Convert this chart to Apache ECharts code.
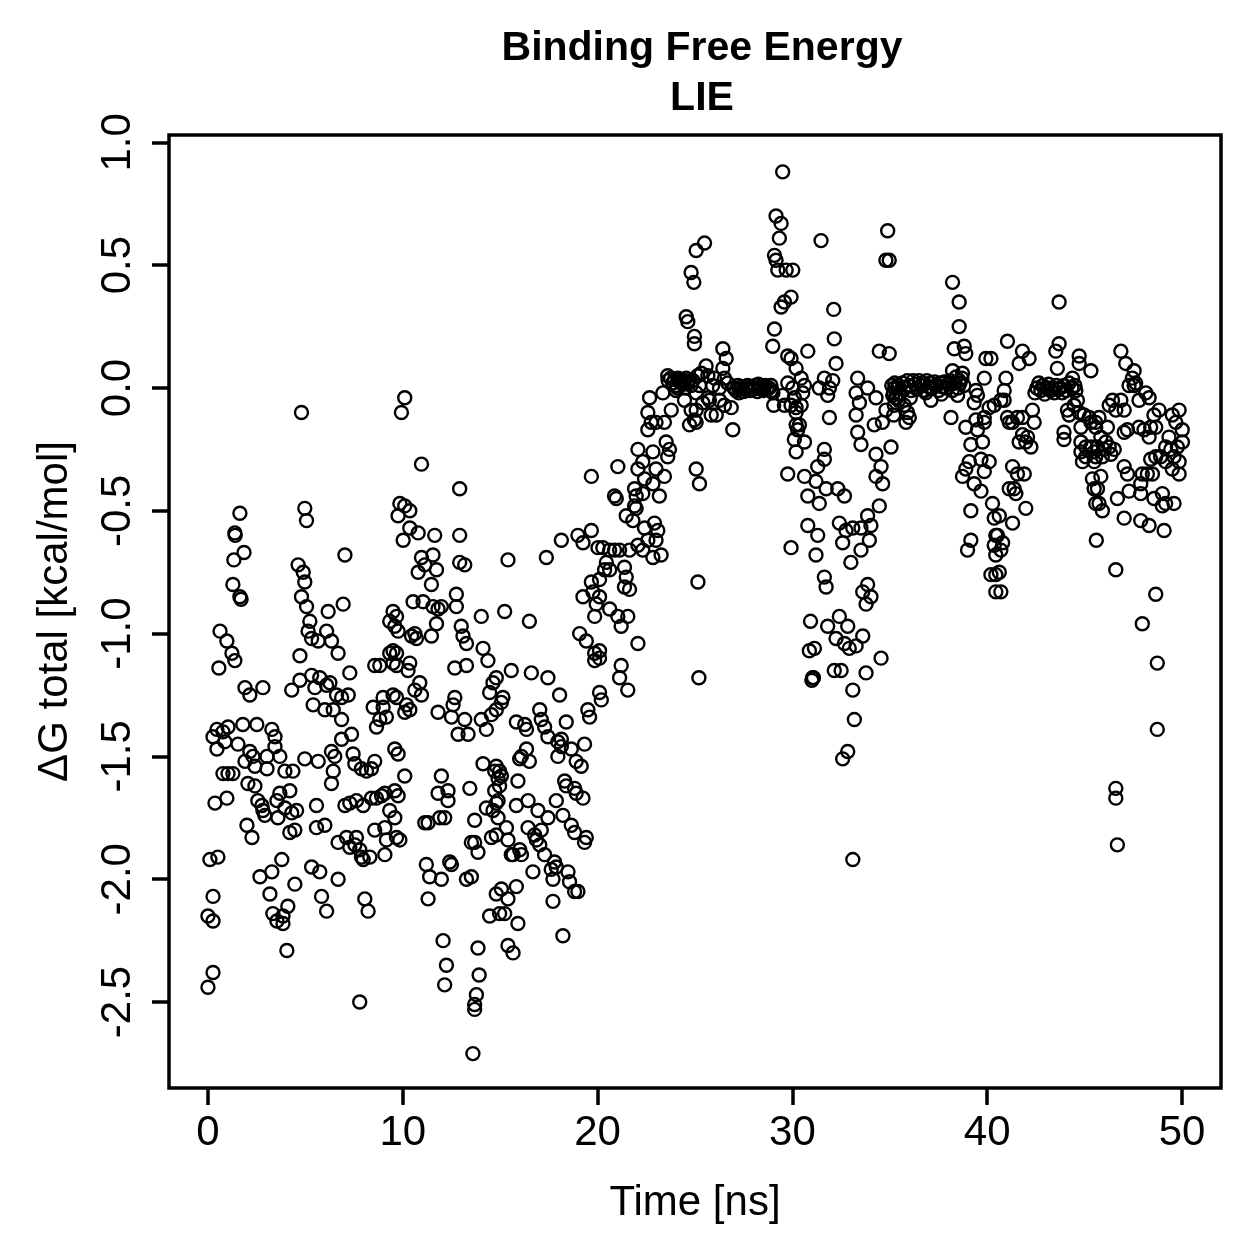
<!DOCTYPE html>
<html>
<head>
<meta charset="utf-8">
<title>Binding Free Energy - LIE</title>
<script src="https://cdn.jsdelivr.net/npm/echarts@6/dist/echarts.min.js"></script>
<style>
  html, body { margin: 0; padding: 0; background: #fff; }
  #chart { width: 1259px; height: 1259px; }
</style>
</head>
<body>
<div id="chart"></div>
<script>
// [time (ns), dG total (kcal/mol)], grouped by time window
const pts0to5 = [
  [1.64,-0.51],[1.38,-0.59],[1.4,-0.6],[1.85,-0.67],[1.33,-0.70],[1.28,-0.80],[1.64,-0.85],[1.7,-0.86],
  [0.62,-0.99],[0.97,-1.03],[1.23,-1.08],[1.38,-1.11],[0.56,-1.14],[1.90,-1.22],[2.15,-1.25],[2.82,-1.22],
  [4.3,-1.23],[0.46,-1.39],[1.03,-1.38],[1.79,-1.37],[2.51,-1.37],[3.28,-1.39],[0.26,-1.42],[0.77,-1.40],
  [0.87,-1.44],[0.46,-1.47],[1.54,-1.45],[3.44,-1.42],[3.44,-1.46],[2.15,-1.48],[2.31,-1.50],[1.90,-1.52],
  [3.03,-1.50],[3.69,-1.50],[2.41,-1.54],[3.03,-1.55],[0.77,-1.57],[1.03,-1.57],[1.28,-1.57],[3.95,-1.56],
  [4.36,-1.56],[2.05,-1.61],[2.41,-1.62],[0.36,-1.69],[0.97,-1.67],[2.56,-1.68],[2.77,-1.70],[2.82,-1.72],
  [2.92,-1.74],[3.54,-1.68],[3.69,-1.65],[4.2,-1.64],[3.95,-1.71],[4.3,-1.73],[3.59,-1.75],[2.0,-1.78],
  [2.26,-1.83],[4.2,-1.81],[0.10,-1.92],[0.51,-1.91],[3.79,-1.92],[2.67,-1.99],[3.28,-1.97],[4.46,-2.02],
  [0.26,-2.07],[3.18,-2.06],[0.0,-2.15],[0.26,-2.17],[3.33,-2.14],[3.54,-2.17],[3.85,-2.15],[4.1,-2.11],
  [3.85,-2.18],[4.05,-2.29],[0.26,-2.38],[0.0,-2.44],[4.55,-1.72],[4.46,-1.80]
];
const pts5to10 = [
  [4.8,-0.10],[4.97,-0.49],[5.06,-0.54],[7.03,-0.68],[4.63,-0.72],[4.89,-0.75],[4.97,-0.79],[4.8,-0.85],
  [5.06,-0.89],[6.94,-0.88],[6.17,-0.91],[5.23,-0.95],[5.14,-0.99],[5.32,-1.02],[5.66,-1.03],[6.09,-0.99],
  [6.34,-1.03],[6.68,-1.08],[4.72,-1.09],[9.5,-0.91],[9.59,-0.97],[9.33,-0.95],[9.33,-1.08],[9.5,-1.07],
  [9.5,-1.12],[8.56,-1.13],[8.82,-1.13],[4.72,-1.19],[5.32,-1.17],[5.49,-1.22],[5.74,-1.18],[6.09,-1.21],
  [6.26,-1.20],[7.28,-1.16],[6.6,-1.25],[6.86,-1.26],[7.2,-1.25],[5.4,-1.29],[6.0,-1.31],[6.43,-1.31],
  [6.86,-1.35],[8.48,-1.30],[8.99,-1.30],[8.82,-1.35],[9.16,-1.34],[8.99,-1.26],[9.5,-1.25],[8.65,-1.38],
  [6.86,-1.43],[7.37,-1.41],[9.59,-1.47],[4.97,-1.51],[5.66,-1.52],[6.34,-1.48],[6.51,-1.50],[7.45,-1.49],
  [7.54,-1.53],[7.88,-1.55],[8.14,-1.56],[8.39,-1.55],[8.56,-1.52],[6.43,-1.56],[6.34,-1.61],[5.57,-1.70],
  [5.57,-1.79],[6.0,-1.78],[7.03,-1.70],[7.28,-1.69],[7.62,-1.68],[7.97,-1.70],[8.39,-1.67],[8.65,-1.67],
  [8.91,-1.66],[9.08,-1.65],[9.33,-1.72],[9.59,-1.64],[6.68,-1.85],[7.11,-1.83],[7.28,-1.87],[7.54,-1.86],
  [7.62,-1.83],[7.79,-1.88],[7.88,-1.91],[7.97,-1.92],[8.31,-1.91],[8.56,-1.80],[9.08,-1.79],[9.16,-1.84],
  [9.08,-1.90],[9.68,-1.83],[5.32,-1.95],[5.74,-1.97],[6.68,-2.0],[5.83,-2.07],[6.09,-2.13],[8.05,-2.08],
  [8.22,-2.13],[7.79,-2.50]
];
const pts10to15 = [
  [10.1,-0.04],[9.93,-0.10],[10.96,-0.31],[12.92,-0.41],[9.85,-0.47],[10.1,-0.48],[10.36,-0.50],[9.76,-0.52],
  [10.36,-0.57],[10.79,-0.59],[10.02,-0.62],[11.64,-0.60],[12.92,-0.60],[10.96,-0.69],[11.55,-0.68],[11.13,-0.72],
  [10.79,-0.75],[11.73,-0.74],[12.92,-0.71],[13.18,-0.72],[11.47,-0.80],[12.75,-0.84],[12.75,-0.89],[10.53,-0.87],
  [11.04,-0.87],[11.55,-0.89],[11.81,-0.90],[11.98,-0.89],[14.03,-0.93],[9.68,-0.93],[9.76,-0.99],[10.45,-1.01],
  [10.62,-1.00],[10.7,-1.02],[11.47,-1.01],[11.73,-0.96],[13.0,-0.97],[13.09,-1.01],[13.27,-1.04],[14.12,-1.06],
  [14.37,-1.11],[9.68,-1.08],[9.68,-1.13],[10.36,-1.12],[10.27,-1.15],[12.67,-1.14],[13.27,-1.13],[10.87,-1.20],
  [10.62,-1.23],[10.96,-1.25],[9.68,-1.26],[14.63,-1.20],[14.46,-1.24],[15.06,-1.28],[10.19,-1.29],[10.36,-1.31],
  [10.1,-1.32],[11.81,-1.32],[12.67,-1.26],[12.58,-1.29],[12.5,-1.34],[13.18,-1.35],[12.84,-1.41],[13.35,-1.41],
  [14.03,-1.35],[14.29,-1.39],[14.55,-1.33],[9.76,-1.49],[10.1,-1.58],[9.76,-1.66],[11.98,-1.58],[11.81,-1.65],
  [12.32,-1.64],[12.32,-1.68],[13.44,-1.63],[14.12,-1.53],[14.72,-1.56],[14.89,-1.59],[14.72,-1.64],[14.89,-1.68],
  [14.29,-1.71],[14.63,-1.72],[14.89,-1.75],[9.59,-1.75],[9.85,-1.84],[11.13,-1.77],[11.3,-1.77],[11.9,-1.75],
  [12.15,-1.75],[13.69,-1.76],[13.52,-1.85],[13.69,-1.85],[13.86,-1.89],[14.55,-1.83],[11.21,-1.94],[11.38,-1.99],
  [11.98,-2.0],[12.41,-1.93],[12.5,-1.94],[13.27,-2.0],[13.52,-1.99],[11.3,-2.08],[14.8,-2.06],[14.46,-2.15],
  [14.97,-2.14],[12.07,-2.25],[13.86,-2.28],[12.24,-2.35],[12.15,-2.43],[13.92,-2.39],[13.78,-2.47],[13.69,-2.51],
  [13.69,-2.53],[13.6,-2.71]
];
const pts15to20 = [
  [19.68,-0.36],[18.14,-0.62],[18.99,-0.60],[19.25,-0.63],[19.68,-0.58],[20.02,-0.65],[15.4,-0.70],[17.37,-0.69],
  [15.23,-0.91],[16.5,-0.95],[19.68,-0.79],[19.76,-0.83],[19.25,-0.85],[19.93,-0.88],[19.85,-0.93],[19.08,-1.0],
  [19.42,-1.03],[19.85,-1.08],[19.85,-1.11],[15.57,-1.15],[16.6,-1.16],[17.45,-1.18],[18.05,-1.25],[17.03,-1.31],
  [15.14,-1.26],[14.8,-1.31],[14.8,-1.18],[15.83,-1.36],[16.26,-1.37],[16.35,-1.39],[17.11,-1.35],[17.28,-1.38],
  [17.45,-1.42],[17.96,-1.44],[18.14,-1.43],[18.39,-1.36],[18.65,-1.47],[18.9,-1.52],[19.16,-1.54],[19.5,-1.31],
  [19.59,-1.34],[19.33,-1.45],[16.35,-1.47],[16.09,-1.50],[16.0,-1.51],[16.5,-1.52],[14.8,-1.54],[14.97,-1.56],
  [15.06,-1.58],[14.97,-1.62],[15.91,-1.60],[17.96,-1.50],[18.14,-1.46],[18.31,-1.60],[18.39,-1.62],[18.82,-1.63],
  [18.9,-1.65],[19.25,-1.67],[14.8,-1.69],[15.83,-1.70],[16.43,-1.68],[16.94,-1.72],[17.45,-1.75],[17.88,-1.68],
  [18.22,-1.74],[18.65,-1.78],[18.82,-1.81],[19.42,-1.83],[19.33,-1.85],[15.32,-1.79],[14.8,-1.82],[15.4,-1.84],
  [16.43,-1.79],[16.77,-1.82],[16.86,-1.84],[17.11,-1.80],[17.03,-1.86],[17.28,-1.90],[16.0,-1.88],[16.09,-1.90],
  [15.66,-1.90],[15.57,-1.90],[16.68,-1.97],[17.79,-1.93],[17.88,-1.95],[17.62,-1.96],[17.71,-2.0],[18.48,-1.97],
  [18.56,-2.01],[18.82,-2.05],[18.99,-2.05],[15.06,-2.04],[15.83,-2.03],[15.4,-2.08],[15.23,-2.14],[15.91,-2.18],
  [17.71,-2.09],[18.22,-2.23],[15.4,-2.27],[15.66,-2.30]
];
const pts20to25 = [
  [25.06,0.56],[24.8,0.47],[24.94,0.43],[24.55,0.29],[24.63,0.27],[24.97,0.21],[24.97,0.18],
  [23.62,0.03],[23.75,0.04],[23.85,0.02],[23.95,0.035],[24.05,0.01],[24.12,0.04],[24.2,0.025],[24.3,0.035],
  [24.38,0.015],[24.45,0.03],[24.55,0.04],[24.62,0.02],[24.7,0.03],[24.8,0.01],[24.9,0.03],[24.1,0.0],[24.5,0.0],
  [25.14,0.05],[23.6,0.05],[23.35,-0.02],[24.03,-0.01],[24.46,-0.05],[22.67,-0.04],[23.78,-0.09],[22.58,-0.10],
  [24.8,-0.09],[24.72,-0.15],[24.97,-0.13],[22.58,-0.17],[23.0,-0.14],[23.43,-0.14],[22.75,-0.14],[22.07,-0.25],
  [22.84,-0.26],[23.52,-0.22],[23.69,-0.25],[23.6,-0.28],[21.04,-0.32],[22.07,-0.33],[22.32,-0.30],[23.0,-0.33],
  [23.43,-0.36],[22.41,-0.37],[22.84,-0.39],[21.9,-0.41],[22.32,-0.43],[23.17,-0.44],[21.98,-0.44],[21.9,-0.48],
  [25.06,-0.33],[25.23,-0.39],[20.87,-0.44],[20.96,-0.45],[21.47,-0.52],[21.81,-0.54],[21.98,-0.49],[22.41,-0.57],
  [22.92,-0.55],[23.09,-0.58],[22.58,-0.62],[23.0,-0.62],[23.26,-0.68],[22.84,-0.69],[21.64,-0.66],[22.07,-0.64],
  [22.32,-0.66],[20.27,-0.65],[20.62,-0.66],[20.87,-0.66],[21.13,-0.66],[20.45,-0.71],[20.62,-0.74],[20.36,-0.74],
  [21.38,-0.73],[21.47,-0.77],[21.38,-0.81],[21.64,-0.82],[20.1,-0.78],[20.1,-0.85],[20.62,-0.90],[21.04,-0.93],
  [21.55,-0.93],[21.21,-0.97],[22.07,-1.04],[20.1,-1.07],[20.1,-1.10],[21.21,-1.13],[21.13,-1.18],[21.55,-1.23],
  [20.1,-1.24],[20.19,-1.27],[25.15,-0.79],[25.2,-1.18]
];
const pts25to30 = [
  [29.5,0.88],[29.16,0.70],[29.42,0.67],[29.33,0.61],[29.08,0.54],[29.16,0.52],[29.25,0.48],[29.68,0.48],
  [30.02,0.48],[29.93,0.37],[29.59,0.35],[29.42,0.33],[25.49,0.59],[29.08,0.24],[28.99,0.17],[26.43,0.16],
  [26.6,0.12],[29.76,0.13],[29.93,0.12],[30.19,0.08],
  [25.57,0.09],[25.32,0.06],[25.66,0.05],[26.0,0.04],[25.91,0.01],[26.43,0.08],[26.51,0.04],[26.68,0.02],
  [26.26,0.0],[25.66,-0.04],[25.74,-0.05],[25.23,0.01],[25.4,-0.06],[25.06,-0.02],[26.26,-0.05],[26.51,-0.07],
  [26.86,-0.08],[25.83,-0.11],[26.09,-0.11],[25.06,-0.09],[25.06,-0.14],[26.94,-0.17],
  [27.0,0.0],[27.1,-0.01],[27.2,0.01],[27.3,-0.005],[27.4,0.005],[27.5,-0.015],[27.6,0.0],[27.7,0.01],
  [27.8,-0.01],[27.9,0.005],[28.0,-0.005],[28.1,0.01],[28.2,-0.015],[28.3,0.0],[28.4,0.005],[28.5,-0.01],
  [28.6,0.01],[28.7,-0.005],[28.8,0.0],[28.9,0.01],[29.0,-0.02],[28.95,-0.01],[27.25,-0.02],[28.25,0.015],
  [29.04,-0.07],[29.5,-0.03],[29.59,-0.07],[29.93,-0.07],[30.19,-0.08],[30.1,-0.04],[29.76,0.02],[30.02,0.0],
  [30.19,-0.15],[30.1,-0.21],[30.19,-0.26],[29.76,-0.35],[29.93,-0.65]
];
const pts30to35 = [
  [31.47,0.60],[34.89,0.64],[34.8,0.52],[34.97,0.52],[32.12,0.32],[32.15,0.20],[32.24,0.10],[30.79,0.15],
  [34.46,0.15],[34.97,0.14],[30.45,0.04],[30.62,0.01],[30.53,-0.02],[31.38,0.0],[31.64,0.04],[32.07,0.03],
  [31.9,0.0],[31.81,-0.03],[33.35,0.04],[33.27,-0.02],[33.86,0.0],[34.29,-0.04],[33.44,-0.06],
  [35.1,0.01],[35.2,-0.02],[35.25,0.02],[35.3,-0.04],[35.4,0.0],[35.45,-0.05],
  [30.45,-0.07],[30.19,-0.10],[30.36,-0.15],[30.62,-0.22],[30.27,-0.17],[31.9,-0.12],[33.27,-0.11],[33.35,-0.18],
  [33.52,-0.23],[34.2,-0.15],[34.62,-0.14],[34.8,-0.09],[35.06,-0.24],[35.2,-0.11],[31.64,-0.25],[31.64,-0.29],
  [31.3,-0.32],[31.21,-0.38],[30.62,-0.36],[31.73,-0.41],[32.33,-0.41],[32.67,-0.44],[34.29,-0.27],[34.55,-0.32],
  [34.29,-0.36],[34.63,-0.39],[34.46,-0.48],[33.86,-0.52],[33.1,-0.57],[33.52,-0.57],[34.03,-0.56],[33.95,-0.62],
  [33.52,-0.66],[33.0,-0.71],[30.79,-0.44],[31.38,-0.47],[30.79,-0.56],[31.3,-0.60],[31.21,-0.68],[32.41,-0.55],
  [32.75,-0.58],[32.58,-0.63],[31.64,-0.77],[31.73,-0.81],[33.86,-0.80],[33.61,-0.83],[34.03,-0.85],[33.78,-0.88],
  [30.93,-0.95],[31.81,-0.97],[32.41,-0.93],[32.84,-0.97],[32.24,-1.02],[32.67,-1.04],[32.92,-1.06],[33.27,-1.05],
  [33.61,-1.01],[30.87,-1.07],[31.13,-1.06],[31.04,-1.18],[31.0,-1.19],[31.08,-1.18],[32.15,-1.15],[32.5,-1.15],
  [33.78,-1.16],[34.55,-1.10],[33.1,-1.23],[33.18,-1.35],[32.84,-1.48],[32.58,-1.51],[33.1,-1.92]
];
const pts35to40 = [
  [38.22,0.43],[38.56,0.35],[38.56,0.25],[38.31,0.16],[38.82,0.17],[38.9,0.14],[39.93,0.12],[40.19,0.12],
  [35.15,-0.03],[35.25,0.0],[35.35,-0.04],[35.45,0.01],[35.55,-0.02],[35.65,0.02],[35.8,0.0],[35.9,0.03],
  [36.0,0.01],[36.1,-0.01],[36.2,0.03],[36.3,0.015],[36.4,-0.005],[36.5,0.03],[36.6,0.01],[36.7,0.02],
  [36.8,-0.01],[36.9,0.03],[37.0,0.005],[37.1,0.02],[37.2,0.0],[37.3,0.025],[37.4,0.01],[37.5,-0.01],
  [37.6,0.02],[37.7,0.005],[37.8,0.025],[37.9,0.0],[38.0,0.015],[38.1,0.03],[38.2,-0.01],[38.3,0.02],
  [38.4,0.045],[38.5,0.0],[38.6,0.02],[38.7,0.04],[38.8,0.01],[36.05,-0.04],[36.85,-0.02],[37.65,-0.025],
  [38.22,0.07],[38.73,0.06],[38.56,0.03],[39.85,0.04],[39.42,-0.01],[39.5,-0.03],[39.33,-0.06],[38.48,-0.03],
  [37.11,-0.05],[35.23,-0.07],[35.74,-0.07],[35.91,-0.10],[35.83,-0.14],[36.0,-0.12],[38.14,-0.12],[40.1,-0.08],
  [39.85,-0.12],[39.42,-0.13],[39.85,-0.14],[38.9,-0.16],[39.5,-0.17],[39.76,-0.22],[39.16,-0.23],[39.08,-0.30],
  [39.68,-0.29],[40.1,-0.30],[38.9,-0.33],[38.73,-0.36],[39.85,-0.34],[39.33,-0.39],[39.68,-0.42],[40.27,-0.47],
  [40.36,-0.53],[39.16,-0.50],[39.16,-0.62],[38.99,-0.66],[40.44,-0.60],[40.36,-0.64],[40.44,-0.68],[40.19,-0.76],
  [40.44,-0.76],[40.44,-0.83]
];
const pts40to45 = [
  [43.69,0.35],[41.04,0.19],[41.81,0.15],[42.15,0.12],[41.64,0.10],[43.69,0.18],[43.52,0.15],[43.6,0.08],
  [44.72,0.13],[44.72,0.10],[45.32,0.07],[40.96,0.04],[40.87,-0.01],[40.87,-0.05],[40.7,-0.05],[40.36,-0.07],
  [42.45,-0.02],[42.55,0.0],[42.65,0.02],[42.75,-0.01],[42.85,0.01],[42.95,-0.025],[43.05,0.0],[43.15,0.015],
  [43.25,-0.01],[43.35,0.0],[43.45,-0.02],[43.55,0.01],[43.65,-0.005],[43.75,0.0],[43.85,-0.02],[43.95,0.01],
  [44.05,-0.01],[44.2,0.02],[44.35,0.0],[44.5,0.01],
  [44.38,0.04],[44.55,-0.01],[44.63,-0.05],[44.46,-0.07],[44.72,-0.10],[44.12,-0.09],[44.2,-0.11],[44.97,-0.11],
  [45.23,-0.12],[45.32,-0.14],[45.57,-0.14],[44.81,-0.16],[41.04,-0.12],[41.3,-0.14],[41.55,-0.12],[41.81,-0.12],
  [42.32,-0.09],[42.41,-0.14],[41.13,-0.14],[41.81,-0.19],[42.07,-0.20],[41.98,-0.22],[41.64,-0.22],[42.24,-0.24],
  [43.94,-0.18],[43.94,-0.21],[44.81,-0.22],[45.06,-0.24],[45.32,-0.24],[44.81,-0.26],[45.06,-0.28],[45.49,-0.26],
  [44.89,-0.30],[45.49,-0.30],[41.3,-0.32],[41.55,-0.35],[41.9,-0.35],[41.13,-0.41],[41.38,-0.41],[41.47,-0.43],
  [45.4,-0.37],[45.49,-0.41],[45.57,-0.47],[41.98,-0.49],[41.3,-0.55],[40.62,-0.52],[40.53,-0.60],[40.79,-0.63],
  [40.7,-0.66],[40.62,-0.75],[40.7,-0.83]
];
const pts45to50 = [
  [46.86,0.15],[47.11,0.10],[47.54,0.07],[47.45,0.04],[47.62,0.02],[47.54,0.01],[47.28,0.01],[48.14,-0.02],
  [48.31,-0.04],[47.79,-0.05],[48.82,-0.09],[49.5,-0.11],[49.85,-0.09],[49.68,-0.14],[50.01,-0.17],[48.56,-0.11],
  [48.39,-0.16],[46.43,-0.05],[46.86,-0.05],[46.26,-0.07],[46.6,-0.09],[47.03,-0.09],[45.74,-0.12],[45.57,-0.16],
  [46.17,-0.16],[45.83,-0.20],[46.09,-0.22],[46.26,-0.24],[46.0,-0.25],[45.66,-0.24],[46.52,-0.25],[46.35,-0.27],
  [45.57,-0.28],[45.91,-0.28],[47.03,-0.18],[47.2,-0.17],[47.79,-0.16],[48.05,-0.17],[48.31,-0.20],[48.65,-0.16],
  [49.33,-0.20],[49.16,-0.24],[49.42,-0.25],[49.76,-0.24],[50.02,-0.22],[49.59,-0.28],[48.9,-0.28],[49.16,-0.30],
  [49.85,-0.30],[49.85,-0.35],[49.5,-0.33],[48.65,-0.28],[48.39,-0.29],[47.03,-0.32],[47.2,-0.35],[47.96,-0.35],
  [48.22,-0.35],[48.48,-0.35],[47.88,-0.39],[45.83,-0.36],[45.66,-0.41],[45.74,-0.47],[45.91,-0.50],[46.68,-0.45],
  [47.28,-0.42],[47.88,-0.43],[48.56,-0.45],[48.99,-0.43],[49.16,-0.47],[49.59,-0.47],[48.99,-0.48],[47.03,-0.53],
  [47.88,-0.54],[48.31,-0.56],[49.08,-0.58],[45.6,-0.62],[46.6,-0.74],[48.65,-0.84],[47.96,-0.96],[48.73,-1.12],
  [48.73,-1.39],[46.6,-1.63],[46.6,-1.67],[46.68,-1.86]
];

const xTicks = [0, 10, 20, 30, 40, 50];
const yTicks = [-2.5, -2.0, -1.5, -1.0, -0.5, 0.0, 0.5, 1.0];

const allPoints = [].concat(pts0to5, pts5to10, pts10to15, pts15to20, pts20to25,
  pts25to30, pts30to35, pts35to40, pts40to45, pts45to50);

const font = "'Liberation Sans', Arial, Helvetica, sans-serif";

let myChart = echarts.init(document.getElementById("chart"), null, { renderer: "canvas" });
myChart.setOption({
  animation: false,
  backgroundColor: "#fff",
  textStyle: { fontFamily: font, color: "#000" },
  title: {
    text: "Binding Free Energy\nLIE",
    left: 697,
    top: 19,
    textAlign: "center",
    textStyle: { fontFamily: font, fontWeight: "bold", fontSize: 41, lineHeight: 50, color: "#000" }
  },
  grid: {
    left: 169,
    right: 38,
    top: 135,
    bottom: 171,
    show: true,
    borderColor: "#000",
    borderWidth: 3.5,
    backgroundColor: "transparent"
  },
  xAxis: {
    type: "value",
    min: -2,
    max: 52,
    position: "bottom",
    name: "Time [ns]",
    nameLocation: "middle",
    nameGap: 94,
    nameTextStyle: { fontFamily: font, fontSize: 42, color: "#000" },
    axisLine: { show: false, onZero: false },
    splitLine: { show: false },
    axisTick: {
      show: true,
      inside: false,
      length: 17,
      customValues: xTicks,
      lineStyle: { color: "#000", width: 3.5 }
    },
    axisLabel: {
      customValues: xTicks,
      margin: 24,
      fontFamily: font,
      fontSize: 42,
      color: "#000"
    }
  },
  yAxis: {
    type: "value",
    min: -2.85,
    max: 1.03,
    position: "left",
    name: "ΔG total [kcal/mol]",
    nameLocation: "middle",
    nameRotate: 90,
    nameGap: 93,
    nameTextStyle: { fontFamily: font, fontSize: 42, color: "#000" },
    axisLine: { show: false, onZero: false },
    splitLine: { show: false },
    axisTick: {
      show: true,
      inside: false,
      length: 17,
      customValues: yTicks,
      lineStyle: { color: "#000", width: 3.5 }
    },
    axisLabel: {
      customValues: yTicks,
      rotate: 90,
      margin: 30,
      fontFamily: font,
      fontSize: 42,
      color: "#000",
      formatter: function (v) {
        return v.toFixed(1);
      }
    }
  },
  series: [
    {
      type: "scatter",
      data: allPoints,
      symbol: "circle",
      symbolSize: 13,
      silent: true,
      itemStyle: { color: "transparent", borderColor: "#000", borderWidth: 2.4, opacity: 1 }
    }
  ]
});
</script>
</body>
</html>
